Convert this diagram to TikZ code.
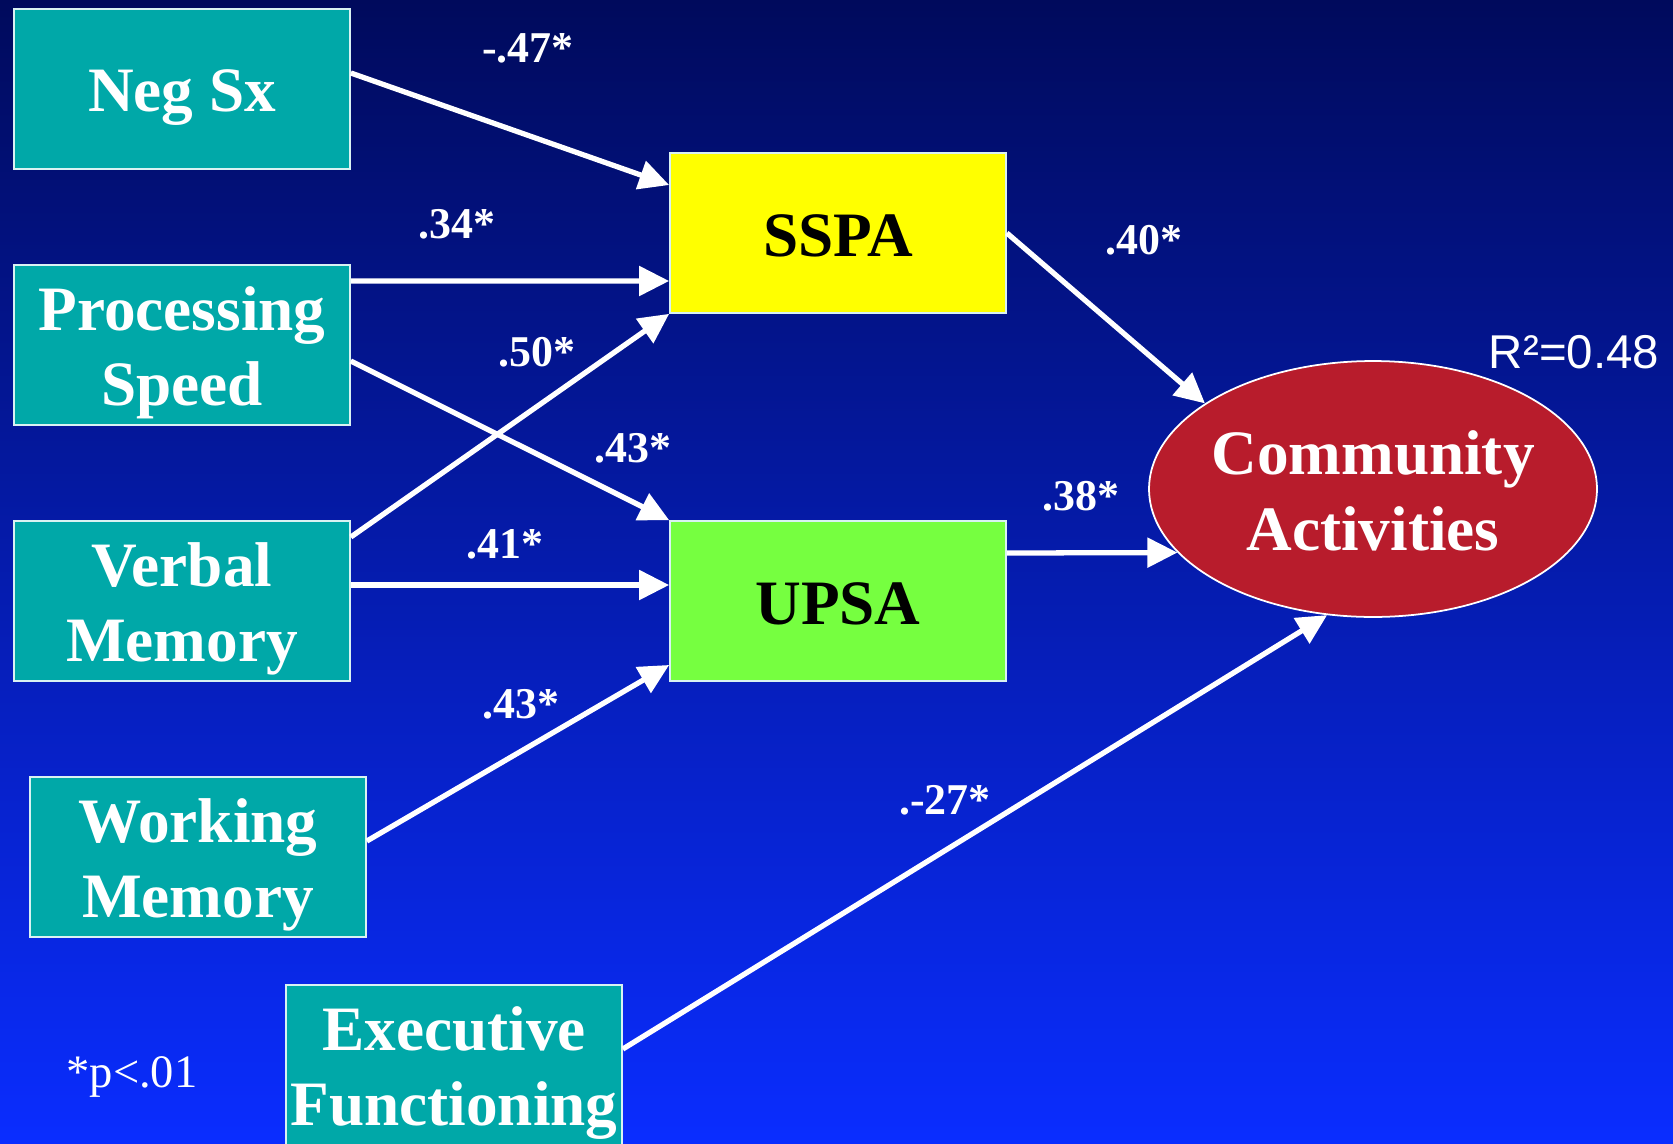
\documentclass[tikz,border=0pt]{standalone}
\usepackage{fontspec}
\setmainfont{Liberation Serif}
\newfontfamily\arialfont{Liberation Sans}
\usetikzlibrary{arrows.meta,shapes.geometric}

\definecolor{bgtop}{RGB}{0,10,92}
\definecolor{bgmid}{RGB}{6,36,208}
\definecolor{bgbot}{RGB}{10,45,255}
\definecolor{tealbox}{RGB}{0,168,168}
\definecolor{sspacol}{RGB}{255,255,0}
\definecolor{upsacol}{RGB}{118,255,64}
\definecolor{commcol}{RGB}{184,28,44}

\tikzset{
  box/.style={rectangle,draw=white!85!tealbox,line width=1pt,
    minimum width=6.72cm,minimum height=3.2cm,inner sep=0pt,align=center,
    font=\fontsize{36}{43}\selectfont\bfseries},
  var/.style={box,fill=tealbox,text=white,execute at begin node={\rule{0pt}{#1}}},
  var/.default=34pt,
  func/.style={box,text=black,execute at begin node={\rule{0pt}{27pt}}},
  outc/.style={ellipse,draw=white,line width=1pt,fill=commcol,
    minimum width=8.96cm,minimum height=5.12cm,inner xsep=-4pt,inner ysep=0pt,
    align=center,text=white,font=\fontsize{36}{43}\selectfont\bfseries,
    execute at begin node={\rule{0pt}{70pt}}},
  coef/.style={text=white,font=\fontsize{25}{30}\selectfont\bfseries},
  path/.style={draw=white,line width=3pt,-{Triangle[length=0.6cm,width=0.58cm]}}
}

\begin{document}
\begin{tikzpicture}[x=0.02cm,y=-0.02cm]
 \useasboundingbox (0,0) rectangle (1673,1143);
 \shade[top color=bgtop,middle color=bgmid,bottom color=bgbot] (0,0) rectangle (1673,1143);

 % predictors
 \node[var]      (neg)  at (182,89)   {Neg Sx};
 \node[var=77pt] (proc) at (182,345)  {Processing\\Speed};
 \node[var=77pt] (verb) at (182,601)  {Verbal\\Memory};
 \node[var=77pt] (work) at (198,857)  {Working\\Memory};
 \node[var=77pt] (exec) at (454,1065) {Executive\\Functioning};

 % functional capacity
 \node[func,fill=sspacol] (sspa) at (838,233) {SSPA};
 \node[func,fill=upsacol] (upsa) at (838,601) {UPSA};

 % outcome
 \node[outc] (comm) at (1373,489) {Community\\Activities};
 \node[text=white,font=\arialfont\fontsize{27}{32}\selectfont] (rsq) at (1574,352) {R²=0.48};

 \draw[path] ([yshift=0.32cm]neg.east)   -- ([yshift=0.96cm]sspa.west);
 \draw[path] ([yshift=1.28cm]proc.east)  -- ([yshift=-0.96cm]sspa.west);
 \draw[path] ([yshift=-0.32cm]proc.east) -- (upsa.north west);
 \draw[path] ([yshift=1.28cm]verb.east)  -- (sspa.south west);
 \draw[path] ([yshift=0.32cm]verb.east)  -- ([yshift=0.32cm]upsa.west);
 \draw[path] ([yshift=0.32cm]work.east)  -- ([yshift=-1.28cm]upsa.west);
 \draw[path] (sspa.east) -- (comm.153);
 \draw[path] ([yshift=0.96cm]upsa.east)  -- (comm.198);
 \draw[path] ([yshift=0.32cm]exec.east)  -- (comm.250);

 \node[coef] (c1) at (528,48)  {-.47*};
 \node[coef] (c2) at (457,224) {.34*};
 \node[coef] (c3) at (537,352) {.50*};
 \node[coef] (c4) at (633,448) {.43*};
 \node[coef] (c5) at (505,544) {.41*};
 \node[coef] (c6) at (521,704) {.43*};
 \node[coef] (c7) at (1144,240) {.40*};
 \node[coef] (c8) at (1081,496) {.38*};
 \node[coef] (c9) at (945,800) {.-27*};

 \node[text=white,font=\fontsize{26.5}{31}\selectfont] (note) at (132,1077) {*p<.01};
\end{tikzpicture}
\end{document}
